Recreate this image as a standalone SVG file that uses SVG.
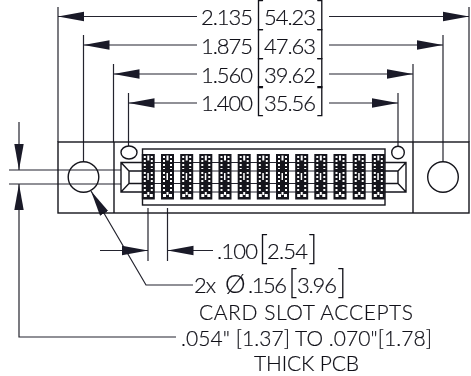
<svg xmlns="http://www.w3.org/2000/svg" xmlns:xlink="http://www.w3.org/1999/xlink" width="471" height="376" viewBox="0 0 471 376">
<style>
.l{fill:none;stroke:#23232e;stroke-width:1.2}
.b{fill:none;stroke:#15151c;stroke-width:1.4}
.a{marker-end:url(#arr)}
#labels{filter:url(#gray)}
text{font-family:"Lato","Liberation Sans",sans-serif;font-weight:300;font-size:21px;fill:#101018;stroke:#101018;stroke-width:0.2}
.n{font-size:22px}
.br{font-size:33px;font-weight:300;stroke-width:0}
.o{font-size:26px;font-weight:300}
</style>
<defs>
<filter id="gray" x="0" y="0" width="471" height="376" filterUnits="userSpaceOnUse" color-interpolation-filters="sRGB"><feOffset dx="0" dy="0"/></filter>
<marker id="arr" markerUnits="userSpaceOnUse" markerWidth="27" markerHeight="11" refX="26" refY="5.5" orient="auto"><path d="M0,0.8 L26,5.5 L0,10.2 Z" fill="#1a1a28"/></marker>
<g id="pin">
<rect x="-6.5" y="154" width="13" height="45.5" fill="#15151c"/>
<path d="M-4.5,156h2v2h-2zM2.500,156h2v2h-2zM-1,155.500h2v5h-2zM-4.500,160h2v2h-2zM2.500,160h2v2h-2zM-4.500,164h2v2h-2zM2.500,164h2v2h-2zM-4.500,168h2v1h-2zM2.500,168h2v1h-2zM-1,173h1.500v7h-1.500zM-4.500,172h2v2h-2zM2.500,172h2v2h-2zM-4.500,176h2v2h-2zM2.500,176h2v2h-2zM-4.500,180h2v2h-2zM2.500,180h2v2h-2zM-4.500,185h2v2h-2zM2.500,185h2v2h-2zM-4.500,189h2v2h-2zM2.500,189h2v2h-2zM-4.500,194h3v3h-3zM1.500,194h3v3h-3zM-1,192h2v3h-2z" fill="#fff"/>
</g>
</defs>
<g id="connectors">
<path class="l" d="M58,7V142M83.500,35V162M113.500,64V142M128.500,93V146M469,7V142M443,35V162M413,64V142M398,93V146"/>
<path class="l a" d="M197,16.500H58"/><path class="l a" d="M329,16.500H469"/>
<path class="l a" d="M197,45H83.500"/><path class="l a" d="M329,45H443"/>
<path class="l a" d="M197,74H113.500"/><path class="l a" d="M329,74H413"/>
<path class="l a" d="M197,103H128.500"/><path class="l a" d="M329,103H398"/>
<path class="l" d="M9,170H121M9,184H121"/>
<path class="l a" d="M19,122V170"/>
<path class="l a" d="M176,337H19V184"/>
<path class="l a" d="M193,285H146L91,191"/>
<path class="l" d="M148,208V261M167.500,208V261"/>
<path class="l a" d="M100,250.500H148"/><path class="l a" d="M213,250.500H167.500"/>
</g>
<g id="connector-body">
<rect class="b" x="58" y="142" width="411" height="71"/>
<path class="b" d="M114,142V213M413,142V213"/>
<circle class="b" cx="83.500" cy="177" r="15.300"/>
<circle class="b" cx="443" cy="177" r="15.300"/>
<ellipse class="b" cx="129" cy="152.500" rx="8" ry="6.500"/>
<circle class="b" cx="398" cy="152.500" r="6.300"/>
<rect class="b" x="142.500" y="149" width="242.500" height="56"/>
<path class="b" d="M142,162.500H121V192H142M121,162.500L129,171V183.500L121,192M129,171H142M129,183.500H142"/>
<path class="b" d="M385,162.500H406V192H385M406,162.500L398,171V183.500L406,192M398,171H385M398,183.500H385"/>
<path class="l" d="M142,162.500H385M142,171H385M142,183.500H385M142,192H385"/>
<use xlink:href="#pin" href="#pin" x="148.300"/><use href="#pin" x="167.500"/><use href="#pin" x="186.700"/><use href="#pin" x="205.800"/><use href="#pin" x="225"/><use href="#pin" x="244.200"/><use href="#pin" x="263.300"/><use href="#pin" x="282.500"/><use href="#pin" x="301.700"/><use href="#pin" x="320.800"/><use href="#pin" x="340"/><use href="#pin" x="359.200"/><use href="#pin" x="378.300"/>
</g>
<g id="labels">
<text class="n" y="25"><tspan x="201" textLength="52">2.135</tspan><tspan class="br" x="254.500" dy="1">[</tspan><tspan x="264" dy="-1" textLength="52">54.23</tspan><tspan class="br" x="316" dy="1">]</tspan></text>
<text class="n" y="54"><tspan x="201" textLength="52">1.875</tspan><tspan class="br" x="254.500" dy="1">[</tspan><tspan x="264" dy="-1" textLength="52">47.63</tspan><tspan class="br" x="316" dy="1">]</tspan></text>
<text class="n" y="83"><tspan x="201" textLength="52">1.560</tspan><tspan class="br" x="254.500" dy="1">[</tspan><tspan x="264" dy="-1" textLength="52">39.62</tspan><tspan class="br" x="316" dy="1">]</tspan></text>
<text class="n" y="111"><tspan x="201" textLength="52">1.400</tspan><tspan class="br" x="254.500" dy="1">[</tspan><tspan x="264" dy="-1" textLength="52">35.56</tspan><tspan class="br" x="316" dy="1">]</tspan></text>
<text class="n" y="259"><tspan x="217" textLength="41">.100</tspan><tspan class="br" x="258.500" dy="1">[</tspan><tspan x="267" dy="-1" textLength="41">2.54</tspan><tspan class="br" x="308" dy="1">]</tspan></text>
<text class="n" y="293"><tspan x="194" textLength="22">2x</tspan><tspan class="o" x="225" textLength="18">Ø</tspan><tspan x="248" textLength="39">.156</tspan><tspan class="br" x="288" dy="1">[</tspan><tspan x="297" dy="-1" textLength="40">3.96</tspan><tspan class="br" x="337" dy="1">]</tspan></text>
<text x="199" y="320" textLength="214">CARD SLOT ACCEPTS</text>
<text x="181" y="346" textLength="251">.054" [1.37] TO .070"[1.78]</text>
<text x="254" y="371" textLength="105">THICK PCB</text>
</g>
</svg>
